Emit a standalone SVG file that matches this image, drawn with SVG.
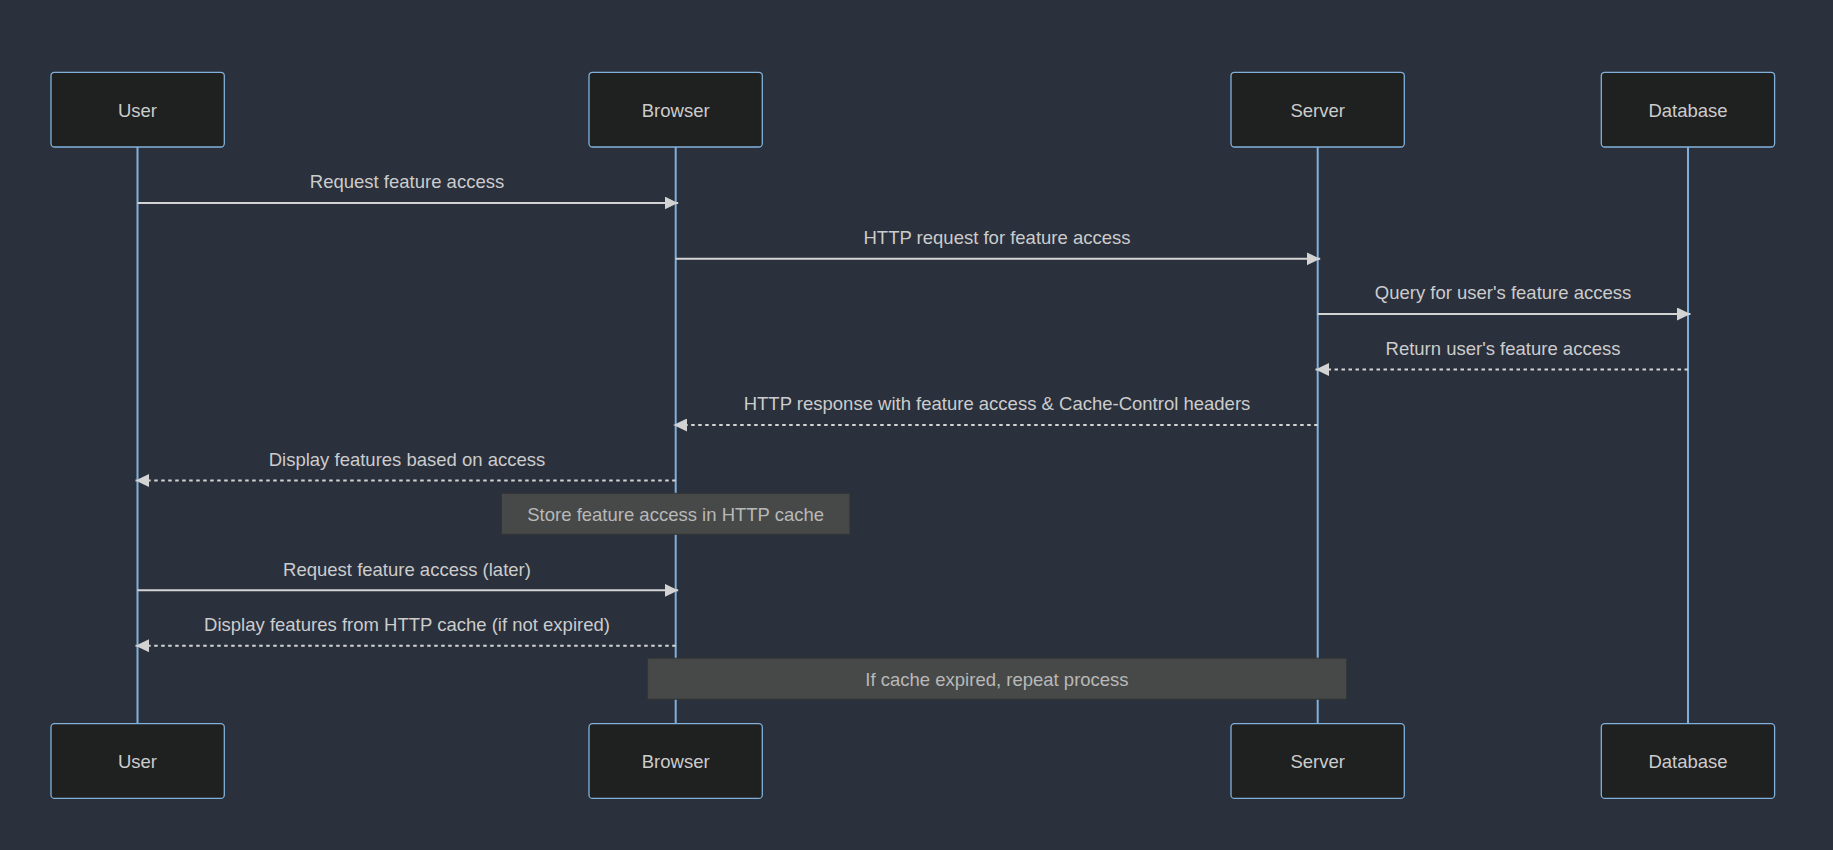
<svg xmlns="http://www.w3.org/2000/svg" width="1833" height="850" viewBox="0 0 1833 850">
<style>
.bg{fill:#2a303c}
.actor rect{fill:#1f2020;stroke:#81b1db;stroke-width:1.3}
.actor text{fill:#cccccc;font-family:"Liberation Sans",Arial,sans-serif;font-size:18.5px;text-anchor:middle;dominant-baseline:central}
.life{stroke:#81b1db;stroke-width:2}
.msg{stroke:#d3d3d3;stroke-width:2;fill:none}
.dash{stroke-dasharray:3.5,3.5}
.lbl{fill:#cccccc;font-family:"Liberation Sans",Arial,sans-serif;font-size:18.5px;text-anchor:middle;dominant-baseline:central}
.note rect{fill:#474949;stroke:#333535;stroke-width:1}
.note text{fill:#b8b8b8;font-family:"Liberation Sans",Arial,sans-serif;font-size:18.5px;text-anchor:middle;dominant-baseline:central}
</style>
<defs>
<marker id="ah" viewBox="0 0 13.5 13" refX="13.5" refY="6.5" markerWidth="13.5" markerHeight="13" markerUnits="userSpaceOnUse" orient="auto">
<path d="M0,0 L13.5,6.5 L0,13 z" fill="#d3d3d3"/>
</marker>
</defs>
<rect class="bg" x="0" y="0" width="1833" height="850"/>
<g id="lifelines">
<line class="life" x1="137.5" y1="147" x2="137.5" y2="724"/>
<line class="life" x1="675.7" y1="147" x2="675.7" y2="724"/>
<line class="life" x1="1317.7" y1="147" x2="1317.7" y2="724"/>
<line class="life" x1="1688" y1="147" x2="1688" y2="724"/>
</g>
<g id="actor-user-top" class="actor"><rect x="51" y="72.3" width="173.3" height="74.7" rx="3.5"/><text x="137.5" y="110">User</text></g>
<g id="actor-browser-top" class="actor"><rect x="589" y="72.3" width="173.3" height="74.7" rx="3.5"/><text x="675.7" y="110">Browser</text></g>
<g id="actor-server-top" class="actor"><rect x="1231" y="72.3" width="173.3" height="74.7" rx="3.5"/><text x="1317.7" y="110">Server</text></g>
<g id="actor-database-top" class="actor"><rect x="1601.3" y="72.3" width="173.3" height="74.7" rx="3.5"/><text x="1688" y="110">Database</text></g>
<g id="actor-user-bottom" class="actor"><rect x="51" y="723.7" width="173.3" height="74.7" rx="3.5"/><text x="137.5" y="761">User</text></g>
<g id="actor-browser-bottom" class="actor"><rect x="589" y="723.7" width="173.3" height="74.7" rx="3.5"/><text x="675.7" y="761">Browser</text></g>
<g id="actor-server-bottom" class="actor"><rect x="1231" y="723.7" width="173.3" height="74.7" rx="3.5"/><text x="1317.7" y="761">Server</text></g>
<g id="actor-database-bottom" class="actor"><rect x="1601.3" y="723.7" width="173.3" height="74.7" rx="3.5"/><text x="1688" y="761">Database</text></g>
<g id="note-store" class="note"><rect x="501.5" y="493.3" width="348.4" height="41"/><text x="675.7" y="514">Store feature access in HTTP cache</text></g>
<g id="note-expired" class="note"><rect x="647.6" y="658.2" width="699.1" height="41"/><text x="997" y="679">If cache expired, repeat process</text></g>
<g id="connectors">
<line class="msg" x1="137.5" y1="203" x2="678.2" y2="203" marker-end="url(#ah)"/>
<text class="lbl" x="407" y="181.5">Request feature access</text>
<line class="msg" x1="675.7" y1="258.8" x2="1320.2" y2="258.8" marker-end="url(#ah)"/>
<text class="lbl" x="997" y="237">HTTP request for feature access</text>
<line class="msg" x1="1317.7" y1="314" x2="1690.5" y2="314" marker-end="url(#ah)"/>
<text class="lbl" x="1503" y="292.5">Query for user's feature access</text>
<line class="msg dash" x1="1688" y1="369.5" x2="1315.5" y2="369.5" marker-end="url(#ah)"/>
<text class="lbl" x="1503" y="348">Return user's feature access</text>
<line class="msg dash" x1="1317.7" y1="425" x2="673.5" y2="425" marker-end="url(#ah)"/>
<text class="lbl" x="997" y="403.5">HTTP response with feature access &amp; Cache-Control headers</text>
<line class="msg dash" x1="675.7" y1="480.5" x2="135.5" y2="480.5" marker-end="url(#ah)"/>
<text class="lbl" x="407" y="459">Display features based on access</text>
<line class="msg" x1="137.5" y1="590.3" x2="678.2" y2="590.3" marker-end="url(#ah)"/>
<text class="lbl" x="407" y="569">Request feature access (later)</text>
<line class="msg dash" x1="675.7" y1="645.7" x2="135.5" y2="645.7" marker-end="url(#ah)"/>
<text class="lbl" x="407" y="624.5">Display features from HTTP cache (if not expired)</text>
</g>
</svg>
